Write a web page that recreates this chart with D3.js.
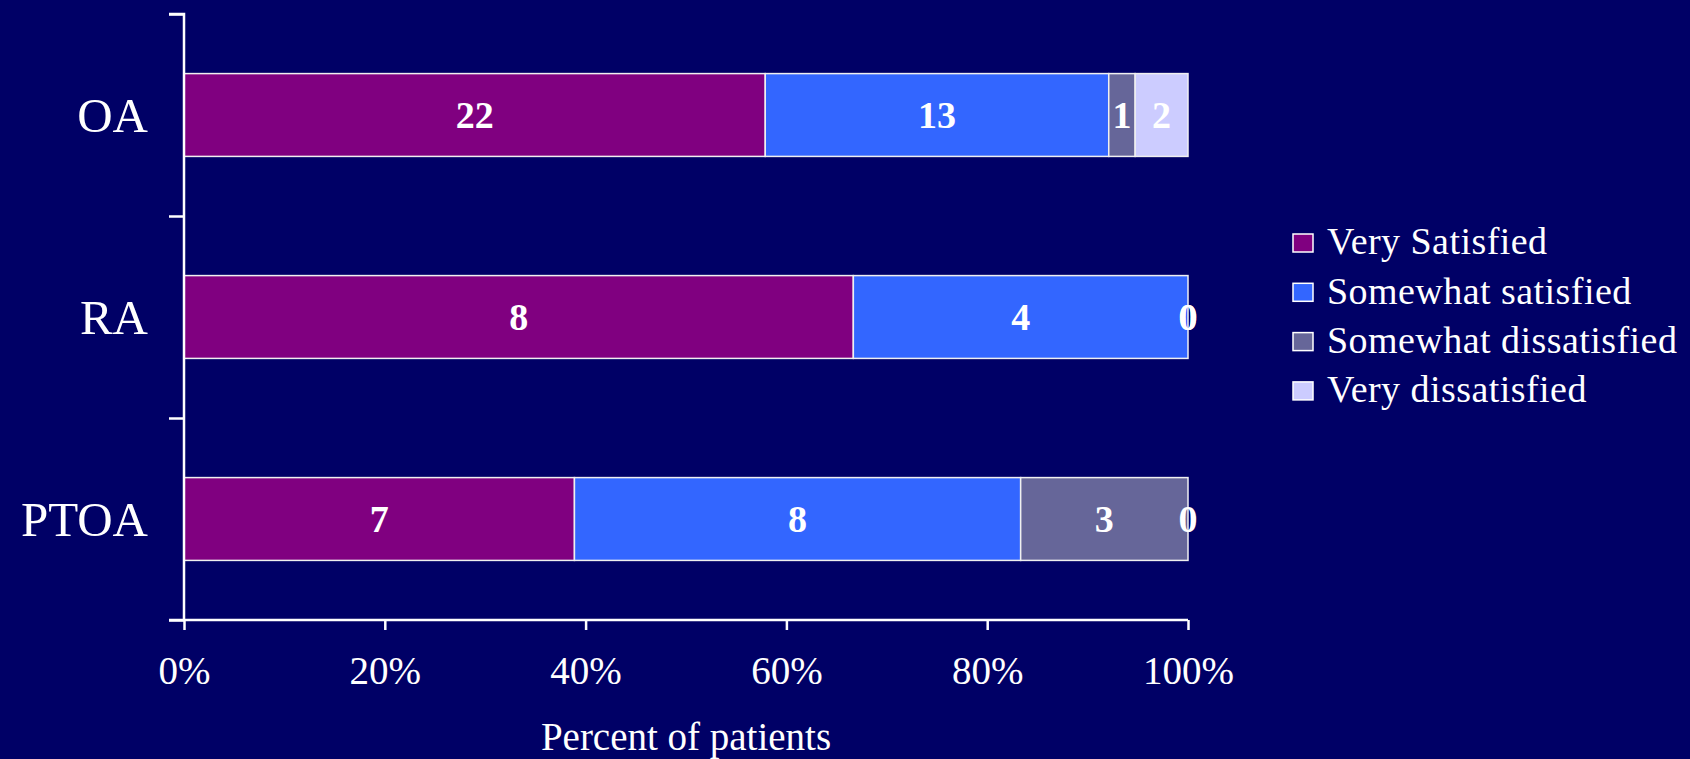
<!DOCTYPE html>
<html>
<head>
<meta charset="utf-8">
<script src="https://cdn.jsdelivr.net/npm/d3@7"></script>
<style>
  html, body { margin: 0; padding: 0; background: #000066; }
  svg { display: block; }
  text { font-family: "Liberation Serif", "Times New Roman", serif; fill: #ffffff; }
</style>
</head>
<body>
<svg id="chart" width="1690" height="759"></svg>
<script>
const categories = ["OA", "RA", "PTOA"];
const seriesNames = ["Very Satisfied", "Somewhat satisfied", "Somewhat dissatisfied", "Very dissatisfied"];
const seriesColors = ["#800080", "#3366FF", "#666699", "#CCCCFF"];
const verySatisfied = [22, 8, 7];
const somewhatSatisfied = [13, 4, 8];
const somewhatDissatisfied = [1, 0, 3];
const veryDissatisfied = [2, 0, 0];
const xTickValues = [0, 0.2, 0.4, 0.6, 0.8, 1.0];
const xTitle = "Percent of patients";

const seriesValues = [verySatisfied, somewhatSatisfied, somewhatDissatisfied, veryDissatisfied];

const svg = d3.select("#chart");
svg.append("rect").attr("width", 1690).attr("height", 759).attr("fill", "#000066");

const mLeft = 184, mRight = 1188, mTop = 14, mBottom = 620;

const x = d3.scaleLinear().domain([0, 1]).range([mLeft, mRight]);
const y = d3.scaleBand().domain(categories).range([mTop, mBottom]).paddingInner(0.59).paddingOuter(0.295);
const yBound = d3.scaleLinear().domain([0, categories.length]).range([mTop, mBottom]);

const rows = categories.map((c, i) => {
  const vals = seriesValues.map(s => s[i]);
  const total = d3.sum(vals);
  let acc = 0;
  return vals.map((v, k) => {
    const start = acc / total;
    acc += v;
    return { cat: c, k, v, x0: start, x1: acc / total };
  });
});

const g = svg.append("g");

rows.forEach(row => {
  row.forEach(seg => {
    if (seg.v > 0) {
      g.append("rect")
        .attr("x", x(seg.x0))
        .attr("y", y(seg.cat))
        .attr("width", x(seg.x1) - x(seg.x0))
        .attr("height", y.bandwidth())
        .attr("fill", seriesColors[seg.k])
        .attr("stroke", "#f0f0f0")
        .attr("stroke-width", 1.5);
    }
  });
});

rows.forEach(row => {
  row.forEach(seg => {
    g.append("text")
      .attr("x", (x(seg.x0) + x(seg.x1)) / 2)
      .attr("y", y(seg.cat) + y.bandwidth() / 2)
      .attr("dy", "0.35em")
      .attr("text-anchor", "middle")
      .attr("font-weight", "bold")
      .attr("font-size", 38)
      .text(seg.v);
  });
});

const yAxis = d3.axisLeft(yBound).tickValues(d3.range(categories.length + 1)).tickSize(15).tickFormat("");
const yg = svg.append("g").attr("transform", `translate(${mLeft},0)`).call(yAxis);
yg.select(".domain").attr("stroke", "#fff").attr("stroke-width", 2.5).attr("d", `M-15,${mTop}H0V${mBottom}`);
yg.selectAll(".tick line").attr("stroke", "#fff").attr("stroke-width", 2.5);

svg.append("g").selectAll("text").data(categories).join("text")
  .attr("x", mLeft - 36)
  .attr("y", d => y(d) + y.bandwidth() / 2)
  .attr("dy", "0.35em")
  .attr("text-anchor", "end")
  .attr("font-size", 49)
  .text(d => d);

const xAxis = d3.axisBottom(x).tickValues(xTickValues).tickSize(10).tickFormat(d3.format(".0%")).tickPadding(26);
const xg = svg.append("g").attr("transform", `translate(0,${mBottom})`).call(xAxis);
xg.select(".domain").attr("stroke", "#fff").attr("stroke-width", 2.5).attr("d", `M${mLeft - 15},0H${mRight}`);
xg.selectAll(".tick line").attr("stroke", "#fff").attr("stroke-width", 2.5);
xg.selectAll(".tick text").attr("font-size", 39).attr("font-family", "Liberation Serif, serif").attr("fill", "#fff");

svg.append("text")
  .attr("x", (mLeft + mRight) / 2)
  .attr("y", 750)
  .attr("text-anchor", "middle")
  .attr("font-size", 39)
  .text(xTitle);

const lg = svg.append("g").attr("transform", "translate(1293,234)");
seriesNames.forEach((name, i) => {
  const row = lg.append("g").attr("transform", `translate(0,${i * 49.3})`);
  row.append("rect").attr("width", 20).attr("height", 18)
    .attr("fill", seriesColors[i]).attr("stroke", "#fff").attr("stroke-width", 1.5);
  row.append("text").attr("x", 34).attr("y", 7).attr("dy", "0.35em")
    .attr("font-size", 38).attr("letter-spacing", 0.45).text(name);
});
</script>
</body>
</html>
